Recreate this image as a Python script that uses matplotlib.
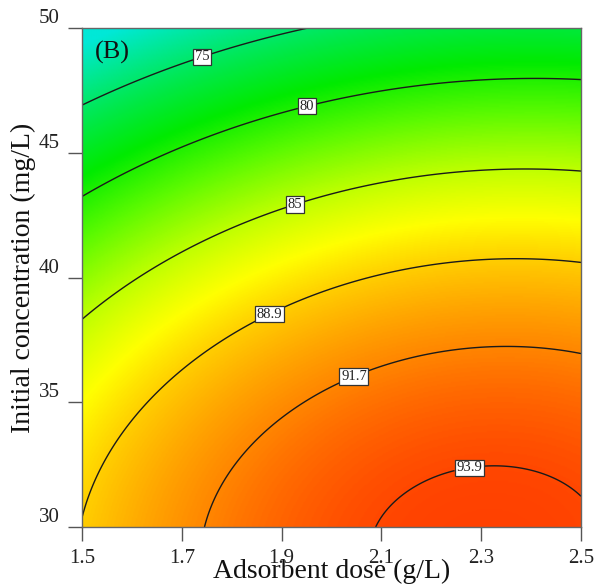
import numpy as np
import matplotlib
matplotlib.use("Agg")
import matplotlib.pyplot as plt
from matplotlib.colors import LinearSegmentedColormap, Normalize

# Contour levels shown in the chart
levels = [75, 80, 85, 88.9, 91.7, 93.9]

# Points (adsorbent dose g/L, initial conc. mg/L, response)
pt_x = [2.10, 2.344, 2.50,
        1.747, 2.017, 2.047, 2.378, 2.50,
        1.50, 1.69, 1.873, 2.364, 2.50,
        1.50, 1.925, 2.50,
        1.50, 1.949, 2.50,
        1.50, 1.7385, 1.987]
pt_y = [30.0, 32.4, 31.68,
        30.0, 35.6, 35.93, 37.17, 37.01,
        30.96, 36.0, 38.62, 40.7, 40.62,
        38.3, 43.03, 44.27,
        43.19, 46.99, 47.92,
        46.83, 48.96, 50.0]
pt_z = [93.9, 93.9, 93.9,
        91.7, 91.7, 91.7, 91.7, 91.7,
        88.9, 88.9, 88.9, 88.9, 88.9,
        85, 85, 85,
        80, 80, 80,
        75, 75, 75]

# Label positions
label_pos = [(1.7385, 48.96), (1.949, 46.99), (1.925, 43.03), (1.873, 38.62), (2.047, 35.93), (2.275, 32.5)]

xticks = [1.5, 1.7, 1.9, 2.1, 2.3, 2.5]
yticks = [30, 35, 40, 45, 50]

# Quadratic response surface fitted to the contour readings
px = np.array(pt_x); py = np.array(pt_y); pz = np.array(pt_z)
def design(x, y):
    X = (x - 2.0) / 0.5; Y = (y - 40.0) / 10.0
    return np.stack([np.ones_like(X), X, Y, X * X, Y * Y, X * Y], axis=-1)
coef, *_ = np.linalg.lstsq(design(px, py), pz, rcond=None)

xs = np.linspace(1.5, 2.5, 400)
ys = np.linspace(30, 50, 400)
XX, YY = np.meshgrid(xs, ys)
ZZ = design(XX, YY) @ coef

nodes = [(71, (0, 232, 215)), (75.5, (0, 232, 90)), (79, (0, 235, 0)), (82, (90, 250, 0)),
         (85, (190, 255, 0)), (87.3, (255, 255, 0)), (89, (255, 205, 0)),
         (91.7, (255, 135, 0)), (94, (255, 70, 0)), (96, (255, 40, 0))]
vmin, vmax = nodes[0][0], nodes[-1][0]
cmap = LinearSegmentedColormap.from_list(
    "de", [((v - vmin) / (vmax - vmin), tuple(c / 255 for c in col)) for v, col in nodes])

plt.rcParams['font.family'] = ['Liberation Serif', 'DejaVu Serif']
fig = plt.figure(figsize=(6.10, 5.87), dpi=100)
ax = fig.add_axes([0.1344, 0.1022, 0.8181, 0.8501])
ax.imshow(ZZ, extent=[1.5, 2.5, 30, 50], origin='lower', aspect='auto',
          cmap=cmap, norm=Normalize(vmin, vmax), interpolation='bilinear')
cs = ax.contour(XX, YY, ZZ, levels=levels, colors='#1a1a1a', linewidths=1.0)
labs = ax.clabel(cs, fmt=lambda v: f"{v:g}", manual=label_pos, inline=True,
                 inline_spacing=2, fontsize=10.5)
for t in labs:
    t.set_rotation(0)
    t.set_fontsize(10.5)
    t.set_color('#222222')
    t.set_bbox(dict(facecolor='white', edgecolor='#333333', linewidth=0.9, pad=1.2))

ax.set_xlim(1.5, 2.5)
ax.set_ylim(30, 50)
ax.set_xticks(xticks)
ax.set_yticks(yticks)
ax.set_xticklabels([f"{v:.1f}" for v in xticks])
ax.set_yticklabels([str(v) for v in yticks], va='bottom')
ax.tick_params(direction='out', length=10, width=1, colors='#555555', labelcolor='#222222',
               labelsize=15, top=False, right=False)
ax.tick_params(axis='x', pad=6)
ax.tick_params(axis='y', pad=6)
for s in ax.spines.values():
    s.set_color('#666666')
    s.set_linewidth(1.0)
ax.set_xlabel("Adsorbent dose (g/L)", fontsize=20, labelpad=-7, color='#111111')
ax.set_ylabel("Initial concentration (mg/L)", fontsize=20, labelpad=2, color='#111111')
ax.text(0.025, 0.975, "(B)", transform=ax.transAxes, fontsize=19, va='top', ha='left',
        color='#111111')

fig.savefig("out.png", dpi=100)
